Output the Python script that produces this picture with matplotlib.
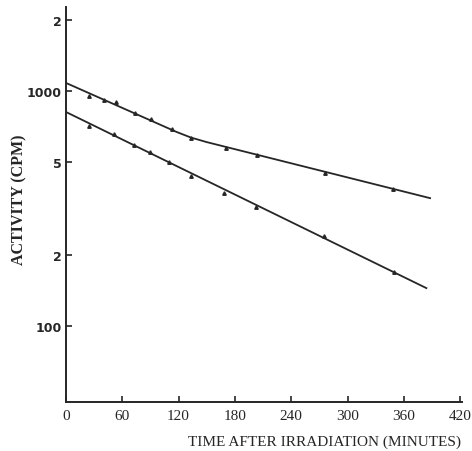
import matplotlib
matplotlib.use("Agg")
import matplotlib.pyplot as plt
from matplotlib.ticker import FixedLocator, FixedFormatter, NullLocator

# Data (time in minutes, activity in CPM)
upper_t = [24.6, 41, 53, 74, 91, 113, 133, 171, 204, 276, 348]
upper_cpm = [952, 915, 898, 806, 760, 689, 631, 572, 534, 448, 383]
upper_fit_t = [0, 118, 133, 150, 388]
upper_fit_cpm = [1082, 669, 634, 606, 350]

lower_t = [24.6, 51, 72, 90, 110, 133, 168, 202, 275, 350]
lower_cpm = [710, 656, 589, 550, 499, 435, 368, 321, 242, 170]
lower_fit_t = [0, 384]
lower_fit_cpm = [814, 145]

x_ticks = [0, 60, 120, 180, 240, 300, 360, 420]
y_ticks = [100, 200, 500, 1000, 2000]
y_labels = ["100", "2", "5", "1000", "2"]

INK = "#262626"

fig = plt.figure(figsize=(4.72, 4.52), dpi=100)
ax = fig.add_axes([66 / 472, 1 - 403 / 452, 396 / 472, 395 / 452])

ax.plot(upper_fit_t, upper_fit_cpm, color=INK, lw=1.3)
ax.plot(lower_fit_t, lower_fit_cpm, color=INK, lw=1.3)
ax.plot(upper_t, upper_cpm, ls="none", marker="^", ms=2.5, color=INK)
ax.plot(lower_t, lower_cpm, ls="none", marker="^", ms=2.5, color=INK)

ax.set_yscale("log")
ax.set_xlim(0, 422)
ax.set_ylim(47.5, 2277)

ax.xaxis.set_major_locator(FixedLocator(x_ticks))
ax.yaxis.set_major_locator(FixedLocator(y_ticks))
ax.yaxis.set_major_formatter(FixedFormatter(y_labels))
ax.yaxis.set_minor_locator(NullLocator())

for side in ["top", "right"]:
    ax.spines[side].set_visible(False)
for side in ["left", "bottom"]:
    ax.spines[side].set_linewidth(1.4)
    ax.spines[side].set_color(INK)

ax.tick_params(axis="both", direction="in", length=4, width=1.2, color=INK)
ax.tick_params(axis="x", pad=5, labelsize=11, labelcolor=INK)
ax.tick_params(axis="y", pad=3, labelsize=9, labelcolor=INK)
for lab in ax.get_xticklabels():
    lab.set_family("Liberation Serif")
for lab in ax.get_yticklabels():
    lab.set_family("DejaVu Sans")
    lab.set_fontweight("bold")

fig.text(325 / 472, 1 - 442 / 452, "TIME AFTER IRRADIATION (MINUTES)",
         ha="center", va="center", fontsize=11, family="Liberation Serif",
         color=INK)
fig.text(19 / 472, 1 - 200 / 452, "ACTIVITY (CPM)", rotation=90,
         ha="center", va="center", fontsize=11.5, family="Liberation Serif",
         fontweight="bold", color=INK)

fig.savefig("out.png", dpi=100)
